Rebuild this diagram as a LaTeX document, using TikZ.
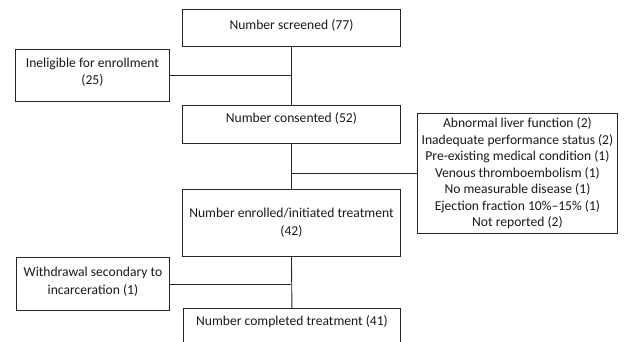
\documentclass[tikz,border=0pt]{standalone}
\usepackage{fontspec}
\setmainfont{Carlito}
\begin{document}
\begin{tikzpicture}[x=1pt,y=-1pt,
  box/.style={draw=black!85, line width=0.9pt, rectangle, inner sep=0pt},
  txt/.style={font=\fontsize{13.6}{17.5}\selectfont, align=center, inner sep=0pt, text=black!90},
  conn/.style={draw=black!85, line width=0.9pt}]
\useasboundingbox (0,0) rectangle (624,342);
\clip (0,0) rectangle (624,342);
% boxes
\node[box, minimum width=218pt, minimum height=37pt, anchor=north west] (scr) at (182,9) {};
\node[box, minimum width=154pt, minimum height=52pt, anchor=north west] (inel) at (15,49) {};
\node[box, minimum width=218pt, minimum height=38pt, anchor=north west] (cons) at (182,105) {};
\node[box, minimum width=200pt, minimum height=120pt, anchor=north west] (excl) at (417,113) {};
\node[box, minimum width=218pt, minimum height=67pt, anchor=north west] (enr) at (182,189) {};
\node[box, minimum width=153pt, minimum height=53pt, anchor=north west] (wd) at (16,257) {};
\node[box, minimum width=217pt, minimum height=50pt, anchor=north west] (comp) at (183,308) {};
% texts
\node[txt] (tscr) at ([yshift=-16pt]scr.north) {Number screened (77)};
\node[txt] (tinel) at ([yshift=3pt]inel.center) {Ineligible for enrollment\\(25)};
\node[txt] (tcons) at ([yshift=-13pt]cons.north) {Number consented (52)};
\node[txt, font=\fontsize{13.6}{16.5}\selectfont] (texcl) at (excl.center) {Abnormal liver function (2)\\Inadequate performance status (2)\\Pre-existing medical condition (1)\\Venous thromboembolism (1)\\No measurable disease (1)\\Ejection fraction 10\%--15\% (1)\\Not reported (2)};
\node[txt] (tenr) at (enr.center) {Number enrolled/initiated treatment\\(42)};
\node[txt] (twd) at ([yshift=2pt]wd.center) {Withdrawal secondary to\\incarceration (1)};
\node[txt] (tcomp) at ([yshift=-14pt]comp.north) {Number completed treatment (41)};
% connectors
\coordinate (j1) at (inel.east -| scr.south);
\coordinate (j2) at (excl.west -| cons.south);
\coordinate (j3) at (wd.east -| enr.south);
\draw[conn] (scr.south) -- (cons.north);
\draw[conn] (inel.east) -- (j1);
\draw[conn] (cons.south) -- (enr.north);
\draw[conn] (excl.west) -- (j2);
\draw[conn] (enr.south) -- (comp.north);
\draw[conn] (wd.east) -- (j3);
\end{tikzpicture}
\end{document}
